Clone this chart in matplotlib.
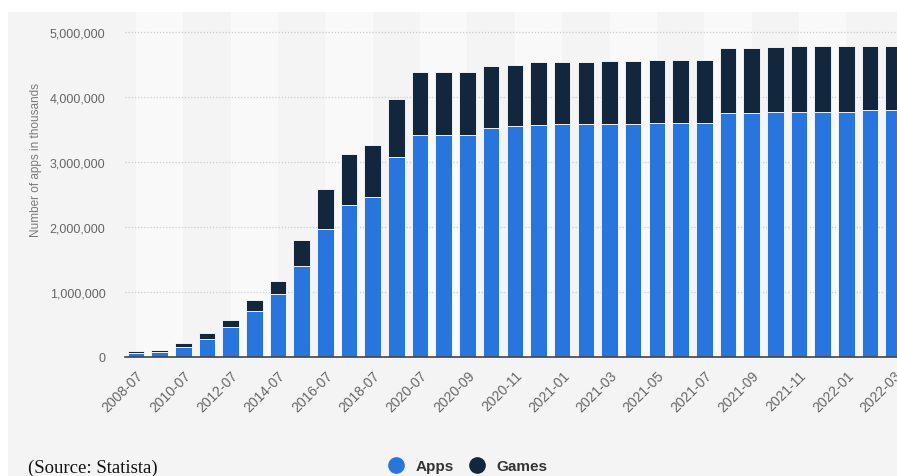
import matplotlib
matplotlib.use("Agg")
import matplotlib.pyplot as plt
from matplotlib.lines import Line2D
from matplotlib.patches import Rectangle
from matplotlib.ticker import FuncFormatter
import numpy as np

categories = ["2008-07", "2009-07", "2010-07", "2011-07", "2012-07", "2013-07",
              "2014-07", "2015-07", "2016-07", "2017-07", "2018-07", "2019-07",
              "2020-07", "2020-08", "2020-09", "2020-10", "2020-11", "2020-12",
              "2021-01", "2021-02", "2021-03", "2021-04", "2021-05", "2021-06",
              "2021-07", "2021-08", "2021-09", "2021-10", "2021-11", "2021-12",
              "2022-01", "2022-02", "2022-03"]
apps = [57000, 82000, 159000, 277000, 457000, 714000, 971000, 1407000, 1972000,
        2342000, 2460000, 3077000, 3421000, 3421000, 3421000, 3528000, 3549000,
        3570000, 3585000, 3585000, 3580000, 3580000, 3595000, 3595000, 3595000,
        3760000, 3760000, 3775000, 3775000, 3775000, 3775000, 3801000, 3801000]
totals = [97000, 113000, 216000, 370000, 565000, 878000, 1176000, 1803000, 2589000,
          3123000, 3262000, 3970000, 4387000, 4387000, 4387000, 4479000, 4499000,
          4540000, 4540000, 4540000, 4556000, 4556000, 4576000, 4576000, 4576000,
          4756000, 4756000, 4771000, 4792000, 4792000, 4792000, 4792000, 4792000]
games = [t - a for t, a in zip(totals, apps)]
series_names = ["Apps", "Games"]
colors = ["#2876dd", "#12263d"]

W, H = 897, 477
fig = plt.figure(figsize=(W / 100, H / 100), dpi=100, facecolor="#ffffff")
# gray panel behind everything
bg = Rectangle((8 / W, 0), 1 - 8 / W, 1 - 13 / H, transform=fig.transFigure,
               facecolor="#f4f4f4", edgecolor="none", zorder=-10)
fig.patches.append(bg)
left, right, top, bottom = 125, 897, 13, 358
ax = fig.add_axes([left / W, 1 - bottom / H, (right - left) / W, (bottom - top) / H])
ax.set_facecolor("#f4f4f4")

x = np.arange(len(categories))
ax.set_xlim(-0.46, len(categories) - 1 + 0.14)
ax.set_ylim(0, 5.31e6)

# alternating column bands
for i in range(0, len(categories) - 1, 4):
    ax.axvspan(i, min(i + 2, len(categories) - 1 + 0.5), color="#f9f9f9", zorder=0, lw=0)

for yv in range(1, 6):
    ax.axhline(yv * 1e6, color="#cccccc", lw=0.9, ls=(0, (1, 1.5)), zorder=1)

ax.bar(x, apps, width=0.7, color=colors[0], edgecolor="#ffffff", linewidth=0.6, zorder=2)
ax.bar(x, games, bottom=apps, width=0.7, color=colors[1], edgecolor="#ffffff", linewidth=0.6, zorder=2)

for s in ["top", "right", "left"]:
    ax.spines[s].set_visible(False)
ax.spines["bottom"].set_color("#444444")
ax.spines["bottom"].set_linewidth(1.2)
ax.spines["bottom"].set_zorder(3)

ax.set_yticks([0, 1e6, 2e6, 3e6, 4e6, 5e6])
ax.yaxis.set_major_formatter(FuncFormatter(lambda v, p: f"{int(v):,}"))
ax.tick_params(axis="y", length=0, pad=14, labelsize=9, labelcolor="#666666")
for lab in ax.get_yticklabels():
    lab.set_fontfamily("Liberation Sans")

tick_idx = list(range(0, len(categories), 2))
ax.set_xticks(tick_idx)
ax.set_xticklabels([categories[i] for i in tick_idx], rotation=45, ha="right",
                   rotation_mode="anchor", fontsize=10, color="#666666",
                   fontfamily="Liberation Sans")
ax.tick_params(axis="x", length=0, pad=8)

ax.set_ylabel("Number of apps in thousands", fontsize=8.5, color="#7a7a7a",
              fontfamily="Liberation Sans")
ax.yaxis.set_label_coords((42 - left) / (right - left), (bottom - 160) / (bottom - top))

fig.text(28 / W, 1 - 468 / H, "(Source: Statista)", fontsize=13.5,
         fontfamily="Liberation Serif", va="center", ha="left", color="#111111")

handles = [Line2D([], [], marker="o", ls="", markersize=11, color=c) for c in colors]
leg = fig.legend(handles, series_names, loc="center", ncol=2, frameon=False,
                 bbox_to_anchor=(464 / W, 1 - 467 / H), handletextpad=0.3,
                 columnspacing=0.5, prop={"family": "Liberation Sans", "weight": "bold", "size": 11})
for t in leg.get_texts():
    t.set_color("#333333")

fig.savefig("out.png", dpi=100, facecolor=fig.get_facecolor())
